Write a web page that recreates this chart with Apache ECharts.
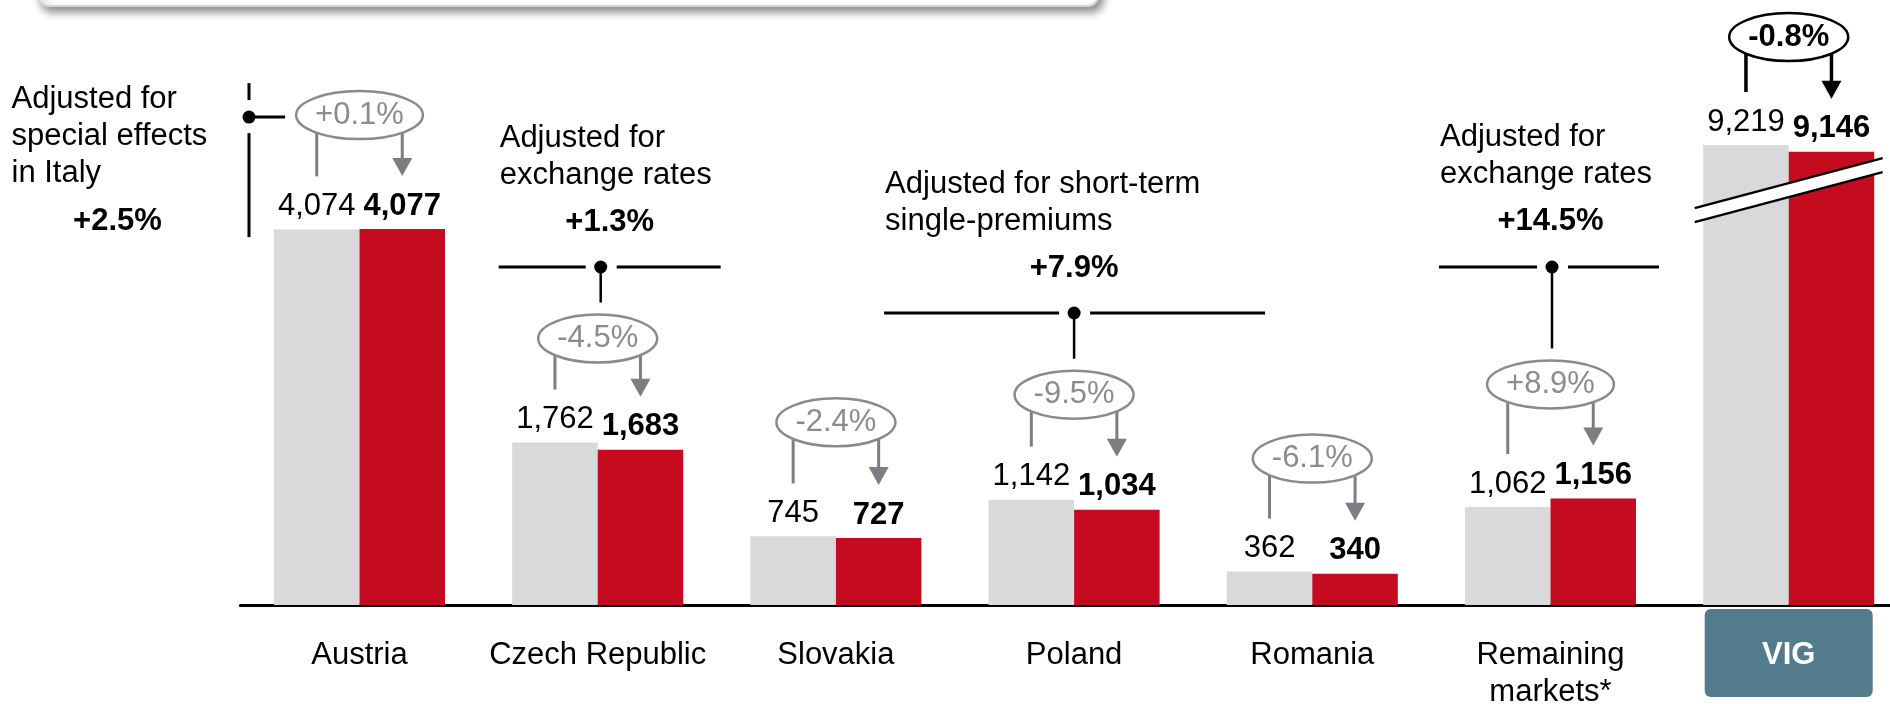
<!DOCTYPE html>
<html>
<head>
<meta charset="utf-8">
<script src="https://cdn.jsdelivr.net/npm/echarts@6/dist/echarts.min.js"></script>
<style>
html,body{margin:0;padding:0;background:#fff;}
#c{width:1890px;height:704px;}
</style>
</head>
<body>
<div id="c"></div>
<script>
// ---------------- data ----------------
const categories = ['Austria', 'Czech Republic', 'Slovakia', 'Poland', 'Romania', 'Remaining\nmarkets*', 'VIG'];
const prevValues = [4074, 1762, 745, 1142, 362, 1062, 9219];
const currValues = [4077, 1683, 727, 1034, 340, 1156, 9146];
const changeLabels = ['+0.1%', '-4.5%', '-2.4%', '-9.5%', '-6.1%', '+8.9%', '-0.8%'];
const adjustedCategory = [0, 1, 3, 5];
const adjustedNotes = ['Adjusted for\nspecial effects\nin Italy', 'Adjusted for\nexchange rates', 'Adjusted for short-term\nsingle-premiums', 'Adjusted for\nexchange rates'];
const adjustedValues = ['+2.5%', '+1.3%', '+7.9%', '+14.5%'];
const breakStart = 4425;
const breakEnd = 8805;
const axisMax = 9805;

// ---------------- style / layout ----------------
const FONT = '"Liberation Sans", Arial, Helvetica, sans-serif';
const FS = 31;
const GREY_BAR = '#d9d9db';
const RED_BAR = '#c50b20';
const CAT_GAP = 0.282;
const ovalLift = [61, 51, 61, 52, 60, 61, 55];
// per annotation layout (offsets from category centre)
const noteLayout = [
  {kind: 'vertical', lineDx: -110.5, textDx: -348, textTop: 81, boldDx: -242, boldY: 221.5},
  {kind: 'horizontal', textDx: -98, textTop: 120, boldDx: 12, boldY: 222.5, lineY: 267, left: -99, right: 123, dotDx: 3},
  {kind: 'horizontal', textDx: -189, textTop: 166, boldDx: 0, boldY: 268.5, lineY: 313, left: -190, right: 191, dotDx: 0},
  {kind: 'horizontal', textDx: -110.5, textTop: 119, boldDx: 0, boldY: 221.5, lineY: 267, left: -111.5, right: 108.5, dotDx: 1.5}
];

const fmt = v => v.toLocaleString('en-US');

const chart = echarts.init(document.getElementById('c'), null, {renderer: 'canvas', width: 1890, height: 704});

const valueLabel = (bold) => ({
  show: true,
  position: 'top',
  distance: 8,
  fontSize: FS,
  lineHeight: 30,
  fontFamily: FONT,
  fontWeight: bold ? 'bold' : 'normal',
  color: '#000',
  formatter: p => fmt(p.value)
});

const option = {
  animation: false,
  backgroundColor: '#ffffff',
  grid: {left: 240.4, right: -17.8, top: 91, bottom: 99, containLabel: false, outerBoundsMode: 'none'},
  xAxis: {
    type: 'category',
    data: categories.map((c, i) => i === categories.length - 1
      ? {value: c, textStyle: {color: '#ffffff', fontWeight: 'bold'}}
      : c),
    axisLine: {lineStyle: {color: '#000', width: 3}},
    axisTick: {show: false},
    axisLabel: {interval: 0, fontSize: FS, lineHeight: 37, fontFamily: FONT, color: '#000', margin: 32, hideOverlap: false}
  },
  yAxis: {
    type: 'value',
    min: 0,
    max: axisMax,
    breaks: [{start: breakStart, end: breakEnd, gap: 150}],
    breakArea: {show: false},
    axisLine: {show: false},
    axisTick: {show: false},
    axisLabel: {show: false},
    splitLine: {show: false}
  },
  series: [
    {
      name: 'Previous year', type: 'bar', data: prevValues,
      barGap: '0%', barCategoryGap: (CAT_GAP * 100) + '%',
      itemStyle: {color: GREY_BAR},
      label: valueLabel(false)
    },
    {
      name: 'Current year', type: 'bar', data: currValues,
      barGap: '0%', barCategoryGap: (CAT_GAP * 100) + '%',
      itemStyle: {color: RED_BAR},
      label: valueLabel(true)
    }
  ]
};
chart.setOption(option);

// --------------- annotations computed from the axes ---------------
const mctx = document.createElement('canvas').getContext('2d');
function textWidth(t, bold) {
  mctx.font = (bold ? 'bold ' : '') + FS + 'px ' + FONT;
  return mctx.measureText(t).width;
}
const px = i => chart.convertToPixel({xAxisIndex: 0}, i);
const py = v => chart.convertToPixel({yAxisIndex: 0}, v);

const els = [];
const catW = px(1) - px(0);
const bw = catW * (1 - CAT_GAP) / 2;
const ovals = [];

// top panel remnant
els.push({type: 'rect', z: 1, shape: {x: 38, y: -30, width: 1060, height: 36, r: 10},
  style: {fill: '#fff', stroke: '#d4d4d4', lineWidth: 2, shadowBlur: 8, shadowColor: 'rgba(0,0,0,0.45)', shadowOffsetX: 4, shadowOffsetY: 5}});

categories.forEach((c, i) => {
  const cx = px(i);
  const xg = cx - bw / 2, xr = cx + bw / 2;
  const endG = py(prevValues[i]) - 53;
  const endR = py(currValues[i]) - 53;
  const isTotal = i === categories.length - 1;
  const cy = Math.min(endG, endR) - ovalLift[i];
  const rx = textWidth(changeLabels[i], isTotal) / 2 + 19;
  const ry = 24;
  ovals.push({cx, cy, rx, ry});
  const lc = isTotal ? '#000' : '#7b7f83';
  const lw = isTotal ? 3.5 : 3;
  els.push({type: 'line', z: 5, shape: {x1: xg, y1: cy, x2: xg, y2: endG}, style: {stroke: lc, lineWidth: lw}});
  els.push({type: 'line', z: 5, shape: {x1: xr, y1: cy, x2: xr, y2: endR - 16}, style: {stroke: lc, lineWidth: lw}});
  els.push({type: 'polygon', z: 5, shape: {points: [[xr - 10, endR - 18], [xr + 10, endR - 18], [xr, endR]]}, style: {fill: lc}});
  els.push({type: 'ellipse', z: 6, shape: {cx, cy, rx, ry},
    style: {fill: '#fff', stroke: isTotal ? '#000' : '#8a8a8a', lineWidth: 2.5}});
  els.push({type: 'text', z: 7, x: cx, y: cy,
    style: {text: changeLabels[i], fontSize: FS, fontFamily: FONT, fontWeight: isTotal ? 'bold' : 'normal',
      fill: isTotal ? '#000' : '#8c8c8c', align: 'center', verticalAlign: 'middle'}});
});

adjustedCategory.forEach((ci, k) => {
  const L = noteLayout[k];
  const cx = px(ci);
  const ov = ovals[ci];
  els.push({type: 'text', z: 7, x: cx + L.textDx, y: L.textTop,
    style: {text: adjustedNotes[k], fontSize: FS, lineHeight: 37, fontFamily: FONT, fill: '#000', align: 'left', verticalAlign: 'top'}});
  els.push({type: 'text', z: 7, x: cx + L.boldDx, y: L.boldY,
    style: {text: adjustedValues[k], fontSize: FS, fontFamily: FONT, fontWeight: 'bold', fill: '#000', align: 'center', verticalAlign: 'middle'}});
  if (L.kind === 'vertical') {
    const x = cx + L.lineDx;
    const dy = ov.cy + 2;
    els.push({type: 'line', z: 5, shape: {x1: x, y1: dy - 34, x2: x, y2: dy - 17}, style: {stroke: '#000', lineWidth: 3}});
    els.push({type: 'line', z: 5, shape: {x1: x, y1: dy + 16, x2: x, y2: dy + 120}, style: {stroke: '#000', lineWidth: 3}});
    els.push({type: 'line', z: 5, shape: {x1: x, y1: dy, x2: ov.cx - ov.rx - 11, y2: dy}, style: {stroke: '#000', lineWidth: 3}});
    els.push({type: 'circle', z: 5, shape: {cx: x, cy: dy, r: 6.5}, style: {fill: '#000'}});
  } else {
    const dx = cx + L.dotDx;
    els.push({type: 'line', z: 5, shape: {x1: cx + L.left, y1: L.lineY, x2: dx - 15, y2: L.lineY}, style: {stroke: '#000', lineWidth: 3}});
    els.push({type: 'line', z: 5, shape: {x1: dx + 16, y1: L.lineY, x2: cx + L.right, y2: L.lineY}, style: {stroke: '#000', lineWidth: 3}});
    els.push({type: 'line', z: 5, shape: {x1: dx, y1: L.lineY, x2: dx, y2: ov.cy - ov.ry - 12}, style: {stroke: '#000', lineWidth: 2.5}});
    els.push({type: 'circle', z: 5, shape: {cx: dx, cy: L.lineY, r: 6.5}, style: {fill: '#000'}});
  }
});

// VIG highlighted category box
const vx = px(categories.length - 1);
els.push({type: 'rect', z: -1, shape: {x: vx - 84, y: 609, width: 168, height: 88, r: 6}, style: {fill: '#547b8b'}});

// axis-break marker across the VIG bars
const yS = py(breakStart), yE = py(breakEnd);
const yc = (yS + yE) / 2;
const slope = -0.266, half = 7, ext = 94;
const yAt = (x, off) => yc + off + slope * (x - vx);
const x1 = vx - ext, x2 = vx + ext;
els.push({type: 'polygon', z: 8, shape: {points: [[x1, yAt(x1, -half)], [x2, yAt(x2, -half)], [x2, yAt(x2, half)], [x1, yAt(x1, half)]]}, style: {fill: '#fff'}});
els.push({type: 'line', z: 9, shape: {x1: x1, y1: yAt(x1, -half), x2: x2, y2: yAt(x2, -half)}, style: {stroke: '#000', lineWidth: 2.5}});
els.push({type: 'line', z: 9, shape: {x1: x1, y1: yAt(x1, half), x2: x2, y2: yAt(x2, half)}, style: {stroke: '#000', lineWidth: 2.5}});

chart.setOption({graphic: {elements: els}});
</script>
</body>
</html>
